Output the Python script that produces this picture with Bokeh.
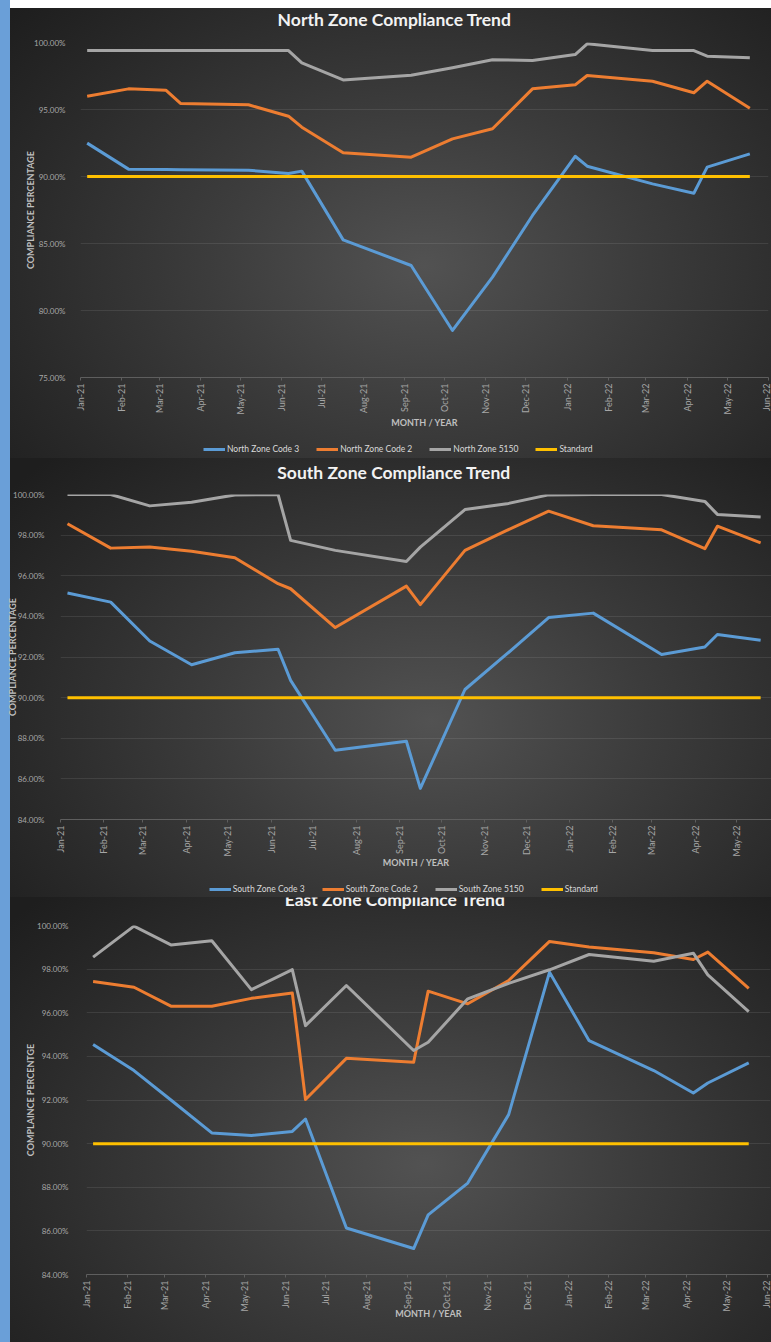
from math import pi
import pandas as pd
from bokeh.plotting import figure
from bokeh.models import (ColumnDataSource, FixedTicker, MonthsTicker, DatetimeTickFormatter,
                          PrintfTickFormatter, Range1d, Legend, LegendItem, Label)
from bokeh.layouts import column
from bokeh.embed import file_html
from bokeh.resources import INLINE

# ---------------- data ----------------
NORTH_DATES = ["2021-01-06", "2021-02-06", "2021-03-06", "2021-03-17", "2021-05-07", "2021-06-06",
               "2021-06-16", "2021-07-17", "2021-09-06", "2021-10-07", "2021-11-06", "2021-12-06",
               "2022-01-07", "2022-01-16", "2022-03-06", "2022-04-06", "2022-04-16", "2022-05-18"]
NORTH_CODE3 = [92.49, 90.55, 90.52, 90.50, 90.47, 90.22, 90.40, 85.27, 83.36, 78.51, 82.49, 87.09,
               91.51, 90.77, 89.45, 88.75, 90.70, 91.69]
NORTH_CODE2 = [95.99, 96.54, 96.44, 95.45, 95.35, 94.50, 93.68, 91.77, 91.44, 92.81, 93.56, 96.54,
               96.84, 97.54, 97.11, 96.25, 97.11, 95.10]
NORTH_5150 = [99.40, 99.40, 99.40, 99.40, 99.40, 99.40, 98.48, 97.21, 97.56, 98.12, 98.71, 98.66,
              99.10, 99.90, 99.40, 99.40, 98.98, 98.86]
NORTH_STANDARD = [90.0, 90.0, 90.0, 90.0, 90.0, 90.0, 90.0, 90.0, 90.0, 90.0, 90.0, 90.0,
                  90.0, 90.0, 90.0, 90.0, 90.0, 90.0]

SOUTH_DATES = ["2021-01-06", "2021-02-06", "2021-03-06", "2021-04-05", "2021-05-06", "2021-06-06",
               "2021-06-15", "2021-07-17", "2021-09-06", "2021-09-16", "2021-10-18", "2021-11-17",
               "2021-12-17", "2022-01-18", "2022-03-08", "2022-04-08", "2022-04-17", "2022-05-18"]
SOUTH_CODE3 = [95.15, 94.70, 92.79, 91.62, 92.21, 92.38, 90.85, 87.41, 87.85, 85.53, 90.40, 92.15,
               93.94, 94.16, 92.12, 92.49, 93.11, 92.82]
SOUTH_CODE2 = [98.56, 97.36, 97.41, 97.21, 96.89, 95.61, 95.36, 93.45, 95.49, 94.58, 97.25, 98.23,
               99.18, 98.46, 98.26, 97.33, 98.44, 97.62]
SOUTH_5150 = [100.0, 100.0, 99.44, 99.62, 99.98, 100.0, 97.74, 97.25, 96.70, 97.41, 99.26, 99.54,
              99.98, 100.0, 100.0, 99.66, 99.02, 98.89]
SOUTH_STANDARD = [90.0, 90.0, 90.0, 90.0, 90.0, 90.0, 90.0, 90.0, 90.0, 90.0, 90.0, 90.0,
                  90.0, 90.0, 90.0, 90.0, 90.0, 90.0]

EAST_DATES = ["2021-01-06", "2021-02-06", "2021-03-06", "2021-04-06", "2021-05-06", "2021-06-06",
              "2021-06-16", "2021-07-17", "2021-09-06", "2021-09-17", "2021-10-17", "2021-11-17",
              "2021-12-18", "2022-01-17", "2022-03-07", "2022-04-06", "2022-04-17", "2022-05-18"]
EAST_CODE3 = [94.54, 93.35, 92.00, 90.49, 90.37, 90.56, 91.13, 86.13, 85.19, 86.73, 88.19, 91.33,
              97.86, 94.72, 93.35, 92.32, 92.78, 93.70]
EAST_CODE2 = [97.43, 97.17, 96.30, 96.30, 96.66, 96.91, 92.02, 93.91, 93.73, 96.99, 96.41, 97.48,
              99.27, 99.01, 98.75, 98.44, 98.78, 97.12]
EAST_5150 = [98.55, 99.97, 99.11, 99.30, 97.06, 97.98, 95.41, 97.25, 94.27, 94.65, 96.64, 97.35,
             97.97, 98.67, 98.36, 98.73, 97.74, 96.05]
EAST_STANDARD = [90.0, 90.0, 90.0, 90.0, 90.0, 90.0, 90.0, 90.0, 90.0, 90.0, 90.0, 90.0,
                 90.0, 90.0, 90.0, 90.0, 90.0, 90.0]

NORTH_Y_TICKS = [75, 80, 85, 90, 95, 100]
SOUTH_Y_TICKS = [84, 86, 88, 90, 92, 94, 96, 98, 100]
EAST_Y_TICKS = [84, 86, 88, 90, 92, 94, 96, 98, 100]

NORTH_LABELS = ["North Zone Code 3", "North Zone Code 2", "North Zone 5150", "Standard"]
SOUTH_LABELS = ["South Zone Code 3", "South Zone Code 2", "South Zone 5150", "Standard"]

COLORS = ["#5B9BD5", "#ED7D31", "#A5A5A5", "#FFC000"]
FONT = "Lato"
W = 771


def clear(p):
    p.title = None
    p.background_fill_color = None
    p.border_fill_color = None
    p.outline_line_color = None


def strip(height):
    # frames of plots stacked in a column are aligned with the main chart's frame
    p = figure(width=W, height=height, x_range=Range1d(0, 1), y_range=Range1d(0, height),
               x_axis_location=None, y_axis_location=None, toolbar_location=None,
               output_backend="svg", min_border=0, min_border_left=0, min_border_right=0,
               min_border_top=0, min_border_bottom=0)
    clear(p)
    p.xgrid.visible = False
    p.ygrid.visible = False
    return p


def title_strip(text, height, sx, base_y):
    p = strip(height)
    p.add_layout(Label(x=sx, y=base_y, x_units="screen", text=text, text_font=FONT,
                       text_font_style="bold", text_font_size="17.5px", text_color="#f2f2f2",
                       text_align="center", text_baseline="alphabetic"))
    return p


def legend_strip(labels, dates, series, height, lx, ly):
    p = strip(height)
    d = pd.to_datetime(dates)
    rs = [p.line(x=d, y=series[i], line_color=COLORS[i], line_width=3)
          for i in range(len(labels))]
    lg = Legend(items=[LegendItem(label=labels[i], renderers=[rs[i]]) for i in range(len(labels))],
                orientation="horizontal", location=(lx, ly),
                label_text_font=FONT, label_text_font_size="8.5px", label_text_color="#d9d9d9",
                glyph_width=22, glyph_height=12, label_height=12, label_standoff=2, spacing=17,
                padding=0, margin=0, background_fill_alpha=0, border_line_color=None)
    p.add_layout(lg)
    return p


def main_chart(dates, series, yticks, ylabel, height, borders, xr, yr,
               xlab_standoff, ylab_standoff, ylab_label_standoff):
    mbl, mbr, mbt, mbb = borders
    p = figure(width=W, height=height, x_axis_type="datetime", output_backend="svg",
               toolbar_location=None, min_border_left=mbl, min_border_right=mbr,
               min_border_top=mbt, min_border_bottom=mbb,
               x_range=Range1d(pd.Timestamp(xr[0]), pd.Timestamp(xr[1])),
               y_range=Range1d(yr[0], yr[1]))
    clear(p)

    src = {"d": pd.to_datetime(dates)}
    for i, vals in enumerate(series):
        src["s%d" % i] = vals
    source = ColumnDataSource(src)
    for i in range(len(series)):
        p.line("d", "s%d" % i, source=source, line_color=COLORS[i], line_width=3,
               line_join="round")

    xa = p.xaxis[0]
    xa.ticker = MonthsTicker(months=list(range(12)))
    xa.formatter = DatetimeTickFormatter(months="%b-%y", days="%b-%y")
    xa.major_label_orientation = pi / 2
    xa.major_label_text_font = FONT
    xa.major_label_text_font_size = "9px"
    xa.major_label_text_color = "#a6a6a6"
    xa.major_label_standoff = 3
    xa.axis_line_color = "#5e5e5e"
    xa.major_tick_line_color = "#5e5e5e"
    xa.major_tick_out = 3
    xa.major_tick_in = 0
    xa.minor_tick_line_color = None
    xa.axis_label = "MONTH / YEAR"
    xa.axis_label_text_font = FONT
    xa.axis_label_text_font_style = "bold"
    xa.axis_label_text_font_size = "9px"
    xa.axis_label_text_color = "#bfbfbf"
    xa.axis_label_standoff = xlab_standoff

    ya = p.yaxis[0]
    ya.ticker = FixedTicker(ticks=yticks)
    ya.formatter = PrintfTickFormatter(format="%.2f%%")
    ya.major_label_text_font = FONT
    ya.major_label_text_font_size = "8px"
    ya.major_label_text_color = "#a6a6a6"
    ya.major_label_standoff = ylab_standoff
    ya.axis_line_color = None
    ya.major_tick_line_color = None
    ya.minor_tick_line_color = None
    ya.axis_label = ylabel
    ya.axis_label_text_font = FONT
    ya.axis_label_text_font_style = "bold"
    ya.axis_label_text_font_size = "9px"
    ya.axis_label_text_color = "#bfbfbf"
    ya.axis_label_standoff = ylab_label_standoff

    p.xgrid.grid_line_color = None
    p.ygrid.ticker = FixedTicker(ticks=yticks)
    p.ygrid.grid_line_color = "#ffffff"
    p.ygrid.grid_line_alpha = 0.09
    return p


def gradient(cx, cy, top_band=False):
    layers = ["linear-gradient(to right, #6a9fd8 0px, #6a9fd8 10px, rgba(0,0,0,0) 10px)"]
    if top_band:
        layers.append("linear-gradient(to bottom, #ffffff 0px, #ffffff 8px, rgba(0,0,0,0) 8px)")
    layers.append("radial-gradient(ellipse 70%% 85%% at %s %s, #525252 0%%, #3c3c3c 40%%, "
                  "#2a2a2a 75%%, #1e1e1e 100%%)" % (cx, cy))
    return ", ".join(layers)


# ---- North (page y 0..458), frame left at x=80
n_title = title_strip("North Zone Compliance Trend", 34, 314, 15)
n_main = main_chart(NORTH_DATES, [NORTH_CODE3, NORTH_CODE2, NORTH_5150, NORTH_STANDARD],
                    NORTH_Y_TICKS, "COMPLIANCE PERCENTAGE", 406, (80, 3, 8, 63),
                    ("2021-01-01", "2022-06-01"), (75, 100), -1, 9, -5)
n_leg = legend_strip(NORTH_LABELS, NORTH_DATES,
                     [NORTH_CODE3, NORTH_CODE2, NORTH_5150, NORTH_STANDARD], 18, 123, 3)
north = column(n_title, n_main, n_leg, spacing=0)
north.styles = {"background": gradient("55%", "58%", True)}

# ---- South (page y 458..897), frame left at x=60
s_title = title_strip("South Zone Compliance Trend", 28, 333.5, 14.5)
s_main = main_chart(SOUTH_DATES, [SOUTH_CODE3, SOUTH_CODE2, SOUTH_5150, SOUTH_STANDARD],
                    SOUTH_Y_TICKS, "COMPLIANCE PERCENTAGE", 392, (60, 0, 8, 59),
                    ("2021-01-01", "2022-05-25 19:00"), (84, 100), -3, 10, -8)
s_leg = legend_strip(SOUTH_LABELS, SOUTH_DATES,
                     [SOUTH_CODE3, SOUTH_CODE2, SOUTH_5150, SOUTH_STANDARD], 19, 148.7, 2)
south = column(s_title, s_main, s_leg, spacing=0)
south.styles = {"background": gradient("56%", "60%")}

# ---- East (page y 897..1342), frame left at x=86
e_title = title_strip("East Zone Compliance Trend", 16, 308.5, 14.3)
e_main = main_chart(EAST_DATES, [EAST_CODE3, EAST_CODE2, EAST_5150, EAST_STANDARD],
                    EAST_Y_TICKS, "COMPLAINCE PERCENTGE", 429, (86, 1, 12, 68),
                    ("2021-01-01", "2022-06-03 12:00"), (84, 100), -7, 12, -2)
east = column(e_title, e_main, spacing=0)
east.styles = {"background": gradient("55%", "60%")}

layout = column(north, south, east, spacing=0)
open("out.html", "w").write(file_html(layout, INLINE))
